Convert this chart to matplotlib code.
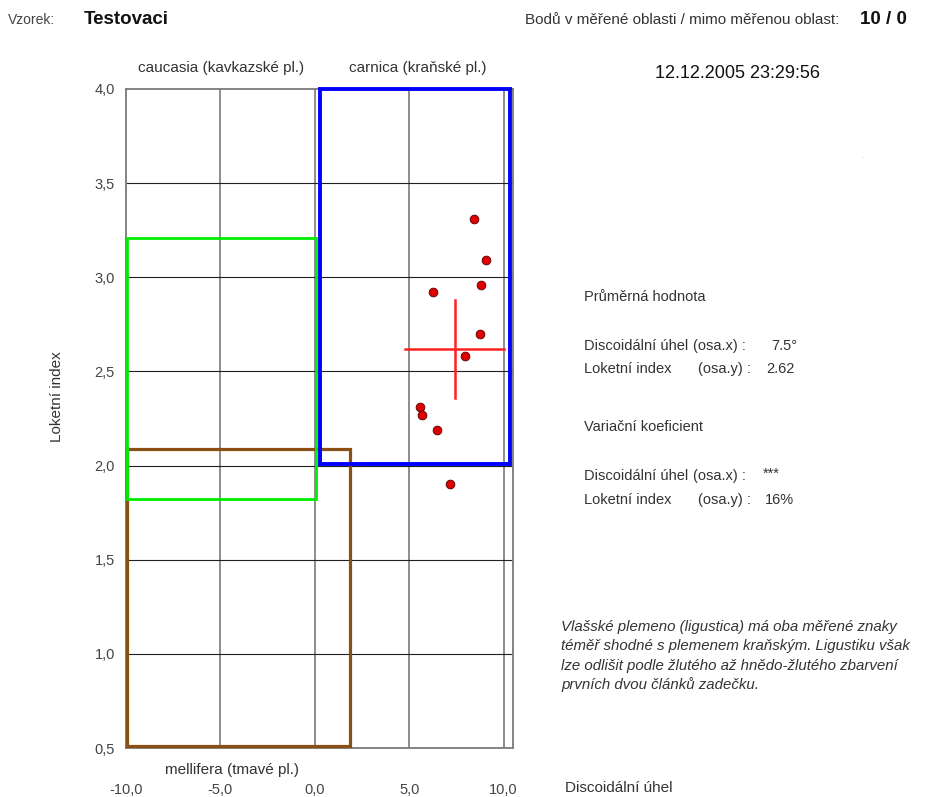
import matplotlib
matplotlib.use('Agg')
import matplotlib.pyplot as plt
from matplotlib.patches import Rectangle

# ---------------- data ----------------
x_vals = [8.46, 9.06, 8.78, 6.25, 8.73, 7.98, 5.56, 5.70, 6.45, 7.15]
y_vals = [3.31, 3.09, 2.96, 2.92, 2.70, 2.58, 2.31, 2.27, 2.19, 1.90]
mean_x, mean_y = 7.45, 2.62
cross_x = [4.8, 10.0]
cross_y = [2.36, 2.88]

region_names = ['mellifera (tmavé pl.)', 'caucasia (kavkazské pl.)', 'carnica (kraňské pl.)']
region_x = [(-9.95, 1.88), (-9.95, 0.08), (0.25, 10.35)]
region_y = [(0.51, 2.09), (1.82, 3.21), (2.01, 4.0)]
region_colors = ['#8a4f14', '#00ee00', '#0000ff']
region_lw = [2.3, 2.0, 2.8]

x_ticks = [-10, -5, 0, 5, 10]
x_ticklabels = ['-10,0', '-5,0', '0,0', '5,0', '10,0']
y_ticks = [0.5, 1.0, 1.5, 2.0, 2.5, 3.0, 3.5, 4.0]
y_ticklabels = ['0,5', '1,0', '1,5', '2,0', '2,5', '3,0', '3,5', '4,0']

sample_name = 'Testovaci'
points_in_out = '10 / 0'
timestamp = '12.12.2005 23:29:56'
mean_values = ['7.5°', '2.62']
cv_values = ['***', '16%']
note_lines = [
    'Vlašské plemeno (ligustica) má oba měřené znaky',
    'téměř shodné s plemenem kraňským. Ligustiku však',
    'lze odlišit podle žlutého až hnědo-žlutého zbarvení',
    'prvních dvou článků zadečku.',
]

plt.rcParams['font.family'] = ['Liberation Sans', 'DejaVu Sans']

W, H = 931, 797
fig = plt.figure(figsize=(W / 100, H / 100), dpi=100)
fig.patch.set_facecolor('white')

def fx(x):
    return x / W

def fy(y):
    return 1 - y / H

TXT = '#333333'

ax = fig.add_axes([fx(126), fy(748), fx(513) - fx(126), fy(89) - fy(748)])
ax.set_xlim(-10, 10.5)
ax.set_ylim(0.5, 4.0)

# grid
for xv in x_ticks[1:]:
    ax.axvline(xv, color='#7a7a7a', lw=1.2, zorder=1)
for yv in y_ticks[1:-1]:
    ax.axhline(yv, color='#202020', lw=0.8, zorder=1)
for s in ax.spines.values():
    s.set_color('#7a7a7a')
    s.set_linewidth(1.3)

# regions
for (x0, x1), (y0, y1), c, lw in zip(region_x, region_y, region_colors, region_lw):
    ax.add_patch(Rectangle((x0, y0), x1 - x0, y1 - y0, fill=False,
                           edgecolor=c, lw=lw, zorder=3, clip_on=False))

# cross (mean)
ax.plot(cross_x, [mean_y, mean_y], color='#ff2020', lw=1.8, zorder=4)
ax.plot([mean_x, mean_x], cross_y, color='#ff2020', lw=1.8, zorder=4)

# points
ax.plot(x_vals, y_vals, 'o', color='#e00000', markersize=6.3,
        markeredgecolor='#500000', markeredgewidth=0.6, zorder=5, linestyle='none')

ax.set_xticks(x_ticks)
ax.set_xticklabels(x_ticklabels)
ax.set_yticks(y_ticks)
ax.set_yticklabels(y_ticklabels)
ax.tick_params(axis='both', length=0, colors='#444444', labelsize=10.5)
ax.tick_params(axis='x', pad=25)
ax.tick_params(axis='y', pad=8)

# axis labels
fig.text(fx(565), fy(788), 'Discoidální úhel', fontsize=11, color=TXT,
         ha='left', va='center')
fig.text(fx(57), fy(397), 'Loketní index', fontsize=11, color=TXT,
         ha='center', va='center', rotation=90)

# region labels
fig.text(fx(221), fy(68), region_names[1], fontsize=11, color=TXT, ha='center', va='center')
fig.text(fx(418), fy(68), region_names[2], fontsize=11, color=TXT, ha='center', va='center')
fig.text(fx(232), fy(770), region_names[0], fontsize=11, color=TXT, ha='center', va='center')

# header
fig.text(fx(8), fy(20), 'Vzorek:', fontsize=10, color='#444444', ha='left', va='center')
fig.text(fx(84), fy(20), sample_name, fontsize=13.5, color='#111111', fontweight='bold',
         ha='left', va='center')
fig.text(fx(525), fy(20), 'Bodů v měřené oblasti / mimo měřenou oblast:', fontsize=11,
         color=TXT, ha='left', va='center')
fig.text(fx(860), fy(20), points_in_out, fontsize=13.5, color='#111111', fontweight='bold',
         ha='left', va='center')
fig.text(fx(655), fy(74), timestamp, fontsize=13, color='#111111', ha='left', va='center')
fig.text(fx(862), fy(157), '.', fontsize=5, color='#aaaaaa', ha='center', va='center')

# stats
def st(x, y, t):
    fig.text(fx(x), fy(y), t, fontsize=10.5, color=TXT, ha='left', va='center')

st(584, 297, 'Průměrná hodnota')
st(584, 346, 'Discoidální úhel')
st(693, 346, '(osa.x) :')
st(771, 346, mean_values[0])
st(584, 369, 'Loketní index')
st(698, 369, '(osa.y) :')
st(766, 369, mean_values[1])
st(584, 427, 'Variační koeficient')
st(584, 476, 'Discoidální úhel')
st(693, 476, '(osa.x) :')
st(763, 474, cv_values[0])
st(584, 500, 'Loketní index')
st(698, 500, '(osa.y) :')
st(765, 500, cv_values[1])

# note
for i, txt in enumerate(note_lines):
    fig.text(fx(561), fy(627 + i * 19.3), txt, fontsize=10.8, color=TXT,
             ha='left', va='center', style='italic')

fig.savefig('out.png', dpi=100, facecolor='white')
